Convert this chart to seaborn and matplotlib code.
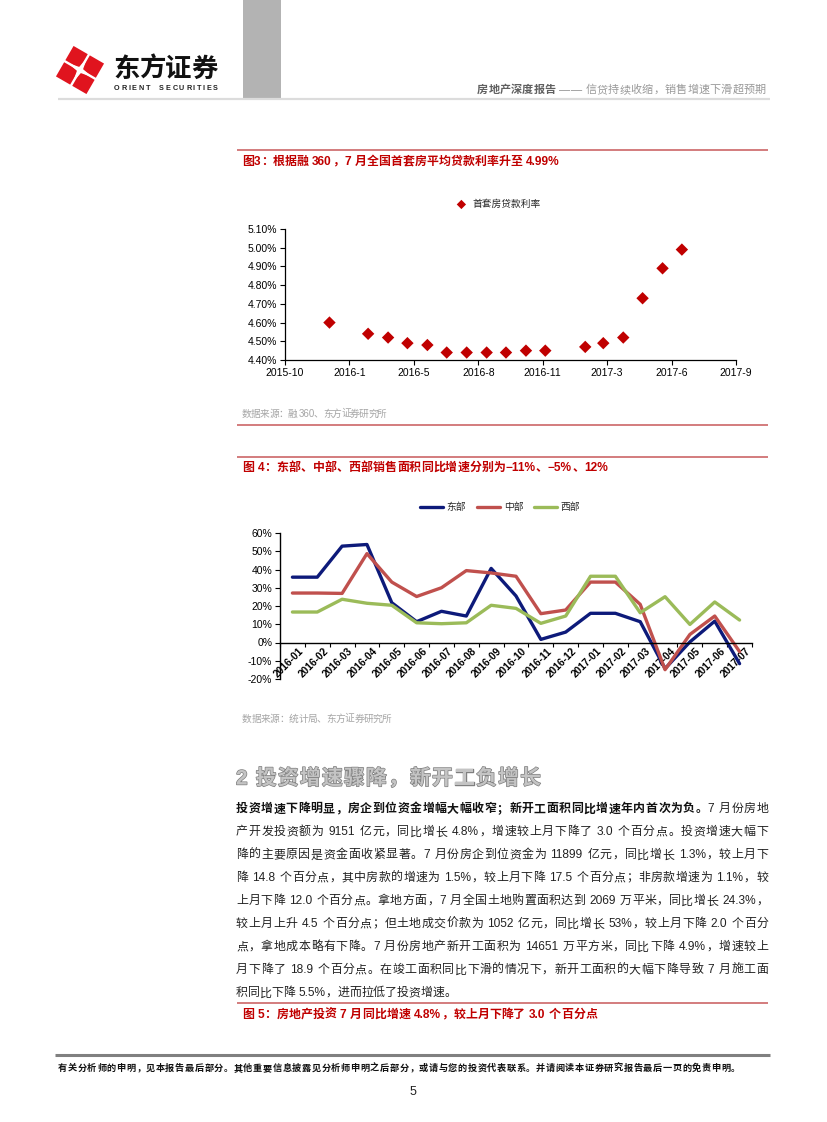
import re
import matplotlib
matplotlib.use('Agg')
import matplotlib.pyplot as plt
import matplotlib.dates as mdates
import matplotlib.patheffects as pe
from matplotlib import font_manager
from matplotlib.patches import Rectangle, Polygon
from matplotlib.lines import Line2D
from matplotlib.transforms import ScaledTranslation
import numpy as np
import pandas as pd
import seaborn as sns

# ---------------- data ----------------
rate_months = ['2016-01', '2016-03', '2016-04', '2016-05', '2016-06', '2016-07',
               '2016-08', '2016-09', '2016-10', '2016-11', '2016-12',
               '2017-02', '2017-03', '2017-04', '2017-05', '2017-06', '2017-07']
rate_values = [4.60, 4.54, 4.52, 4.49, 4.48, 4.44, 4.44, 4.44, 4.44, 4.45, 4.45,
               4.47, 4.49, 4.52, 4.73, 4.89, 4.99]
rate_axis_start = '2015-10-24'
rate_tick_labels = ['2015-10', '2016-1', '2016-5', '2016-8', '2016-11', '2017-3', '2017-6', '2017-9']
rate_series_name = '首套房贷款利率'

region_months = ['2016-01', '2016-02', '2016-03', '2016-04', '2016-05', '2016-06', '2016-07',
                 '2016-08', '2016-09', '2016-10', '2016-11', '2016-12', '2017-01', '2017-02',
                 '2017-03', '2017-04', '2017-05', '2017-06', '2017-07']
east = [35.8, 35.8, 52.8, 53.7, 21.8, 11.4, 17.1, 14.5, 40.6, 25.5, 1.7, 5.7, 16.0, 16.0,
        11.4, -14.3, 0.3, 11.7, -11.6]
central = [27.1, 27.1, 26.9, 48.7, 33.1, 25.2, 30.0, 39.4, 38.1, 36.3, 15.8, 17.8, 33.1, 33.1,
           20.9, -14.9, 4.4, 14.5, -5.0]
west = [16.7, 16.7, 23.7, 21.5, 20.4, 10.8, 10.3, 10.8, 20.4, 18.7, 10.5, 14.5, 36.3, 36.3,
        16.3, 25.1, 9.9, 22.2, 12.3]
region_names = ['东部', '中部', '西部']
region_ticks = [-20, -10, 0, 10, 20, 30, 40, 50, 60]

# ---------------- style ----------------
sns.set_theme(style='ticks')
names = {f.name for f in font_manager.fontManager.ttflist}
NARROW = 'Liberation Sans Narrow' if 'Liberation Sans Narrow' in names else 'Liberation Sans'
LAT = ['Liberation Sans', 'Noto Sans CJK SC', 'DejaVu Sans']
NAR = [NARROW, 'Liberation Sans', 'DejaVu Sans']
plt.rcParams['font.family'] = LAT
plt.rcParams['axes.unicode_minus'] = False

RED_T = '#C00000'
RED_L = '#C8595A'

W, H = 827, 1122
fig = plt.figure(figsize=(W / 100, H / 100), dpi=100)
fig.patch.set_facecolor('white')
page = fig.add_axes([0, 0, 1, 1])
page.set_xlim(0, W)
page.set_ylim(H, 0)
page.axis('off')
renderer = fig.canvas.get_renderer()


def px(pt):
    return pt * 100 / 72


TOKEN = re.compile(r'[A-Za-z0-9.%\-−]+| |.')


def text_line(x0, yc, segments, size, x1=None, per_char=False, family=None, effects=None):
    fam = family or LAT
    toks = []
    for s, weight, color in segments:
        parts = list(s) if per_char else TOKEN.findall(s)
        for p in parts:
            toks.append((p, weight, color))
    base = yc + 0.36 * px(size)
    items = []
    for p, weight, color in toks:
        if p == ' ':
            items.append((None, 0.28 * px(size)))
            continue
        t = page.text(0, base, p, fontsize=size, fontweight=weight, color=color,
                      family=fam, ha='left', va='baseline')
        if effects:
            t.set_path_effects(effects)
        w = t.get_window_extent(renderer).width
        items.append((t, w))
    total = sum(w for _, w in items)
    gap = 0
    if x1 is not None and len(items) > 1:
        gap = (x1 - x0 - total) / (len(items) - 1)
    x = x0
    for t, w in items:
        if t is not None:
            t.set_x(x)
        x += w + gap


def hline(y, x0, x1, color, lw):
    page.add_line(Line2D([x0, x1], [y, y], color=color, lw=lw, solid_capstyle='butt'))


# ---------------- header ----------------
page.add_patch(Rectangle((243, 0), 38, 98, color='#b3b3b3', lw=0))
hline(98.5, 58, 770, '#dcdcdc', 1.6)

c = np.array([80.0, 70.0])
th = np.deg2rad(30)
u = np.array([np.cos(th), np.sin(th)])
v = np.array([-np.sin(th), np.cos(th)])
for a in (-1, 1):
    for b in (-1, 1):
        cc = c + 9.4 * a * u + 9.4 * b * v
        hs = 8.2
        pts = [cc + hs * (i * u + j * v) for i, j in ((-1, -1), (1, -1), (1, 1), (-1, 1))]
        page.add_patch(Polygon(pts, closed=True, color='#E0141E', lw=0))
star = []
for k in range(4):
    ang = th + k * np.pi / 2
    d = np.array([np.cos(ang), np.sin(ang)])
    d2 = np.array([np.cos(ang + np.pi / 4), np.sin(ang + np.pi / 4)])
    star.append(c + 14 * d)
    star.append(c + 3.2 * d2)
page.add_patch(Polygon(star, closed=True, color='white', lw=0))

text_line(113, 67, [('东方证券', 'bold', '#111111')], 19, x1=218)
text_line(114, 87.5, [('ORIENT  SECURITIES', 'bold', '#222222')], 5.2, x1=218, per_char=True)

text_line(477, 89, [('房地产深度报告', 'bold', '#606060'), (' —— ', 'normal', '#8a8a8a'),
                    ('信贷持续收缩，销售增速下滑超预期', 'normal', '#999999')], 8, x1=766)

# ---------------- figure 3 ----------------
hline(150, 237, 768, RED_L, 1.1)
text_line(242, 160.5, [('图3：根据融 360，7 月全国首套房平均贷款利率升至 4.99%', 'bold', RED_T)], 8.6, x1=560)

ax1 = fig.add_axes([285 / W, 1 - 360 / H, (736 - 285) / W, (360 - 229) / H])
df1 = pd.DataFrame({'date': pd.to_datetime(rate_months), 'rate': rate_values})
sns.scatterplot(data=df1, x='date', y='rate', marker='D', s=40, color=RED_T,
                edgecolor='none', ax=ax1)
start = mdates.date2num(pd.Timestamp(rate_axis_start))
xt = start + 100 * np.arange(len(rate_tick_labels))
ax1.set_xlim(xt[0], xt[-1])
ax1.set_xticks(xt)
ax1.set_xticklabels(rate_tick_labels, family=NAR, fontsize=7.5)
yt = np.round(np.arange(4.40, 5.1001, 0.10), 2)
ax1.set_ylim(4.40, 5.10)
ax1.set_yticks(yt)
ax1.set_yticklabels([f'{t:.2f}%' for t in yt], family=NAR, fontsize=7.5)
ax1.set_xlabel('')
ax1.set_ylabel('')
for s in ('top', 'right'):
    ax1.spines[s].set_visible(False)
for s in ('left', 'bottom'):
    ax1.spines[s].set_color('black')
    ax1.spines[s].set_linewidth(0.9)
ax1.tick_params(axis='both', direction='out', length=3.5, width=0.8, color='black', pad=2,
                labelcolor='black')
ax1.set_facecolor('white')
fig.legend([ax1.collections[0]], [rate_series_name], loc='center',
           bbox_to_anchor=(496 / W, 1 - 204 / H), frameon=False, handletextpad=0.1,
           markerscale=0.75, prop={'family': ['Noto Sans CJK SC'], 'size': 7})

text_line(242, 413, [('数据来源：融 360、东方证券研究所', 'normal', '#a6a6a6')], 7, x1=387)
hline(425, 237, 768, RED_L, 1.1)

# ---------------- figure 4 ----------------
hline(457, 237, 768, RED_L, 1.1)
text_line(242, 466.5, [('图 4：东部、中部、西部销售面积同比增速分别为−11%、−5%、12%', 'bold', RED_T)], 8.6, x1=608)

ax2 = fig.add_axes([280 / W, 1 - 679 / H, (752 - 280) / W, (679 - 533) / H])
df2 = pd.DataFrame({
    'month': region_months * 3,
    'value': east + central + west,
    'region': [region_names[0]] * len(east) + [region_names[1]] * len(central) + [region_names[2]] * len(west),
})
sns.lineplot(data=df2, x='month', y='value', hue='region', hue_order=region_names,
             palette=['#0D1A7A', '#C0504D', '#9BBB59'], linewidth=2.4, sort=False, ax=ax2)
ax2.set_xlim(-0.5, len(region_months) - 0.5)
ax2.set_ylim(region_ticks[0], region_ticks[-1])
ax2.set_yticks(region_ticks)
ax2.set_yticklabels([f'{t}%' for t in region_ticks], family=NAR, fontsize=7.5)
ax2.set_xticks(range(len(region_months)))
ax2.set_xticklabels(region_months)
ax2.set_xticks(np.arange(len(region_months) + 1) - 0.5, minor=True)
ax2.set_xlabel('')
ax2.set_ylabel('')
for s in ('top', 'right'):
    ax2.spines[s].set_visible(False)
ax2.spines['bottom'].set_position(('data', 0))
for s in ('left', 'bottom'):
    ax2.spines[s].set_color('black')
    ax2.spines[s].set_linewidth(1.0)
ax2.tick_params(axis='y', direction='out', length=3.5, width=0.8, color='black', pad=2, labelcolor='black')
ax2.tick_params(axis='x', which='major', length=0, pad=2.5, labelcolor='black')
ax2.tick_params(axis='x', which='minor', direction='out', length=3, width=0.8, color='black')
off = ScaledTranslation(4 / 72, 0, fig.dpi_scale_trans)
for lab in ax2.get_xticklabels():
    lab.set_rotation(45)
    lab.set_ha('right')
    lab.set_va('top')
    lab.set_rotation_mode('anchor')
    lab.set_fontweight('bold')
    lab.set_fontsize(7.4)
    lab.set_family(NAR)
    lab.set_transform(lab.get_transform() + off)
ax2.set_facecolor('none')
sns.move_legend(ax2, 'center', bbox_to_anchor=(500 / W, 1 - 507 / H), bbox_transform=fig.transFigure,
                ncol=3, frameon=False, title=None, handlelength=2.4, columnspacing=1.1,
                handletextpad=0.35, prop={'family': ['Noto Sans CJK SC'], 'size': 7})

text_line(242, 718, [('数据来源：统计局、东方证券研究所', 'normal', '#a6a6a6')], 7, x1=392)

# ---------------- section text ----------------
text_line(236, 777, [('2 投资增速骤降，新开工负增长', 'bold', '#c4c4c4')], 15, x1=541,
          effects=[pe.Stroke(linewidth=1.0, foreground='#7f7f7f'), pe.Normal()])

body = [
    [('投资增速下降明显，房企到位资金增幅大幅收窄；新开工面积同比增速年内首次为负。', 'bold', '#111111'),
     ('7 月份房地', 'normal', '#222222')],
    [('产开发投资额为 9151 亿元，同比增长 4.8%，增速较上月下降了 3.0 个百分点。投资增速大幅下', 'normal', '#222222')],
    [('降的主要原因是资金面收紧显著。7 月份房企到位资金为 11899 亿元，同比增长 1.3%，较上月下', 'normal', '#222222')],
    [('降 14.8 个百分点，其中房款的增速为 1.5%，较上月下降 17.5 个百分点；非房款增速为 1.1%，较', 'normal', '#222222')],
    [('上月下降 12.0 个百分点。拿地方面，7 月全国土地购置面积达到 2069 万平米，同比增长 24.3%，', 'normal', '#222222')],
    [('较上月上升 4.5 个百分点；但土地成交价款为 1052 亿元，同比增长 53%，较上月下降 2.0 个百分', 'normal', '#222222')],
    [('点，拿地成本略有下降。7 月份房地产新开工面积为 14651 万平方米，同比下降 4.9%，增速较上', 'normal', '#222222')],
    [('月下降了 18.9 个百分点。在竣工面积同比下滑的情况下，新开工面积的大幅下降导致 7 月施工面', 'normal', '#222222')],
    [('积同比下降 5.5%，进而拉低了投资增速。', 'normal', '#222222')],
]
for i, segs in enumerate(body):
    last = i == len(body) - 1
    text_line(236, 808 + 23 * i, segs, 8.6, x1=None if last else 768)

hline(1003, 237, 768, RED_L, 1.1)
text_line(242, 1013.5, [('图 5：房地产投资 7 月同比增速 4.8%，较上月下降了 3.0 个百分点', 'bold', RED_T)], 8.6, x1=597)

# ---------------- footer ----------------
hline(1055, 55, 770, '#808080', 2.2)
text_line(58, 1067.5, [('有关分析师的申明，见本报告最后部分。其他重要信息披露见分析师申明之后部分，或请与您的投资代表联系。并请阅读本证券研究报告最后一页的免责申明。', 'bold', '#111111')], 6.6, x1=740)
page.text(413, 1092, '5', fontsize=9, family=NAR, ha='center', va='center', color='#222222')

fig.savefig('out.png', dpi=100, facecolor='white')
